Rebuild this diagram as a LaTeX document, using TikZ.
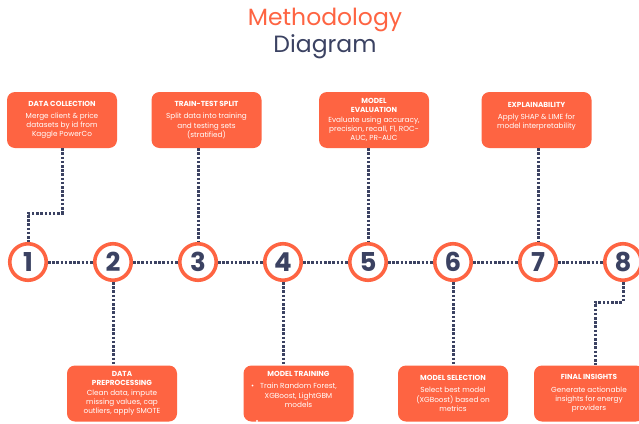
\documentclass[tikz,border=0pt]{standalone}
\usepackage{fontspec}
\setmainfont{Poppins}
\begin{document}
\definecolor{accent}{HTML}{FE6442}
\definecolor{ink}{HTML}{3B4262}
\begin{tikzpicture}[x=1pt,y=-1pt,
  stepbox/.style={fill=accent,rounded corners=8pt,minimum width=110pt,minimum height=56pt,
    inner sep=0pt,text=white,align=center,font=\fontsize{7.3}{9.2}\selectfont},
  ring/.style={circle,draw=accent,line width=3.6pt,fill=white,minimum size=36.5pt,inner sep=0pt,
    text=ink,font=\fontsize{26}{26}\selectfont\bfseries},
  dotline/.style={draw=ink,line width=3pt,dash pattern=on 2.5pt off 1.7pt}]
\useasboundingbox (0,0) rectangle (639,423);
\clip (0,0) rectangle (639,423);
\fill[white] (0,0) rectangle (639,423);

% title
\node[text=accent,font=\fontsize{23.5}{26}\selectfont] (t1) at (325,20) {Methodology};
\node[text=ink,font=\fontsize{23.5}{26}\selectfont] (t2) at (325,47) {Diagram};

% bend points
\coordinate (k1) at (62,213);
\coordinate (k8) at (595,302);

% step circles (positions only; drawn after the connectors)
\foreach \i/\x in {1/28,2/113,3/198,4/283,5/368,6/453,7/538,8/623}
  \coordinate (p\i) at (\x,262);

% boxes above the line
\node[stepbox] (dc) at (62,120) {{\bfseries DATA COLLECTION}\\[3pt]Merge client \& price\\datasets by id from\\Kaggle PowerCo};
\node[stepbox] (ts) at (206.5,120) {{\bfseries TRAIN-TEST SPLIT}\\[3pt]Split data into training\\and testing sets\\(stratified)};
\node[stepbox] (me) at (374,120) {{\bfseries MODEL}\\{\bfseries EVALUATION}\\Evaluate using accuracy,\\precision, recall, F1, ROC-\\AUC, PR-AUC};
\node[stepbox] (ex) at (536.5,120) {{\bfseries EXPLAINABILITY}\\[3pt]Apply SHAP \& LIME for\\model interpretability\\\mbox{}};

% boxes below the line
\node[stepbox] (dp) at (122,393.5) {{\bfseries DATA}\\{\bfseries PREPROCESSING}\\Clean data, impute\\missing values, cap\\outliers, apply SMOTE};
\node[stepbox] (mt) at (298.5,393.5) {{\bfseries MODEL TRAINING}\\[3pt]\makebox[0pt][r]{\textbullet\hspace{6pt}}Train Random Forest,\\XGBoost, LightGBM\\models\\[-1pt]\mbox{}};
\fill[white] (257,421) circle (1.1pt);
\node[stepbox] (ms) at (453,393.5) {{\bfseries MODEL SELECTION}\\[3pt]Select best model\\(XGBoost) based on\\metrics};
\node[stepbox] (fi) at (589,393.5) {{\bfseries FINAL INSIGHTS}\\[3pt]Generate actionable\\insights for energy\\providers};

% numbered circles
\foreach \i in {1,...,8}
  \node[ring] (c\i) at (p\i) {\i};

% connectors
\draw[dotline] (dc.south) -- (k1) -| (c1.north);
\draw[dotline] (ts.south -| c3.north) -- (c3.north);
\draw[dotline] (me.south -| c5.north) -- (c5.north);
\draw[dotline] (ex.south -| c7.north) -- (c7.north);
\draw[dotline] (c2.south) -- (c2.south |- dp.north);
\draw[dotline] (c4.south) -- (c4.south |- mt.north);
\draw[dotline] (c6.south) -- (c6.south |- ms.north);
\draw[dotline] (c8.south) |- (k8) -- (k8 |- fi.north);
\foreach \a/\b in {1/2,2/3,3/4,4/5,5/6,6/7,7/8}
  \draw[dotline] (c\a.east) -- (c\b.west);
\end{tikzpicture}
\end{document}
